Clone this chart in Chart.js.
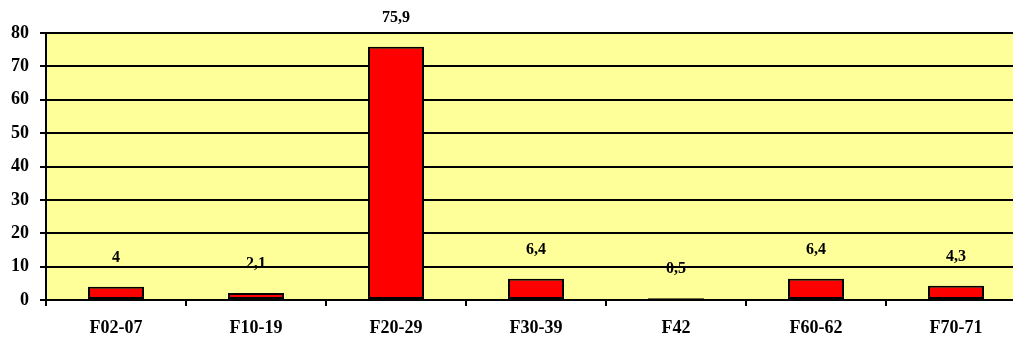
<!DOCTYPE html>
<html>
<head>
<meta charset="utf-8">
<script src="https://cdn.jsdelivr.net/npm/chart.js@4/dist/chart.umd.min.js"></script>
<style>
    html, body { margin: 0; padding: 0; background: #ffffff; overflow: hidden; }
    #wrap { width: 1026px; height: 338px; }
</style>
</head>
<body>
<div id="wrap"><canvas id="myChart" width="1026" height="338"></canvas></div>
<script>
//DATA
const categories = ['F02-07', 'F10-19', 'F20-29', 'F30-39', 'F42', 'F60-62', 'F70-71'];
const values = [4, 2.1, 75.9, 6.4, 0.5, 6.4, 4.3];
const valueLabels = ['4', '2,1', '75,9', '6,4', '0,5', '6,4', '4,3'];
const yTicks = [0, 10, 20, 30, 40, 50, 60, 70, 80];

const fontFamily = '"Liberation Serif", "Times New Roman", serif';

//YELLOW PLOT BACKGROUND
const plotBackground = {
    id: 'plotBackground',
    beforeDraw: (chart) => {
        const { ctx, chartArea } = chart;
        ctx.save();
        ctx.fillStyle = '#ffff99';
        ctx.fillRect(chartArea.left, chartArea.top, chartArea.right - chartArea.left, chartArea.bottom - chartArea.top);
        ctx.restore();
    }
};

//VALUE LABELS ABOVE BARS
const barValues = {
    id: 'barValues',
    afterDatasetsDraw: (chart) => {
        const { ctx } = chart;
        const meta = chart.getDatasetMeta(0);
        ctx.save();
        ctx.font = 'bold 16px ' + fontFamily;
        ctx.fillStyle = '#000000';
        ctx.textAlign = 'center';
        ctx.textBaseline = 'middle';
        meta.data.forEach((bar, i) => {
            ctx.fillText(valueLabels[i], bar.x, bar.y - 29);
        });
        ctx.restore();
    }
};

new Chart(document.getElementById('myChart'), {
    type: 'bar',
    data: {
        labels: categories,
        datasets: [{
            data: values,
            backgroundColor: '#ff0000',
            borderColor: '#000000',
            borderWidth: 2,
            borderSkipped: false,
            barPercentage: 0.4,
            categoryPercentage: 1
        }]
    },
    options: {
        responsive: false,
        animation: false,
        layout: {
            padding: { top: 33, right: 0, bottom: 0, left: 0 }
        },
        plugins: {
            legend: { display: false },
            tooltip: { enabled: false }
        },
        scales: {
            x: {
                afterFit: (scale) => { scale.height = 38; },
                grid: {
                    offset: true,
                    drawOnChartArea: false,
                    drawTicks: true,
                    tickLength: 6,
                    color: '#000000',
                    lineWidth: 2
                },
                border: { display: true, color: '#000000', width: 2 },
                ticks: {
                    color: '#000000',
                    padding: 12,
                    font: { family: fontFamily, size: 18, weight: 'bold' }
                }
            },
            y: {
                min: 0,
                max: 80,
                afterFit: (scale) => { scale.width = 46; },
                afterBuildTicks: (scale) => {
                    scale.ticks = yTicks.map(v => ({ value: v }));
                },
                grid: {
                    drawTicks: true,
                    tickLength: 6,
                    color: '#000000',
                    lineWidth: 2
                },
                border: { display: true, color: '#000000', width: 2 },
                ticks: {
                    color: '#000000',
                    padding: 11,
                    font: { family: fontFamily, size: 18, weight: 'bold' }
                }
            }
        }
    },
    plugins: [plotBackground, barValues]
});
</script>
</body>
</html>
